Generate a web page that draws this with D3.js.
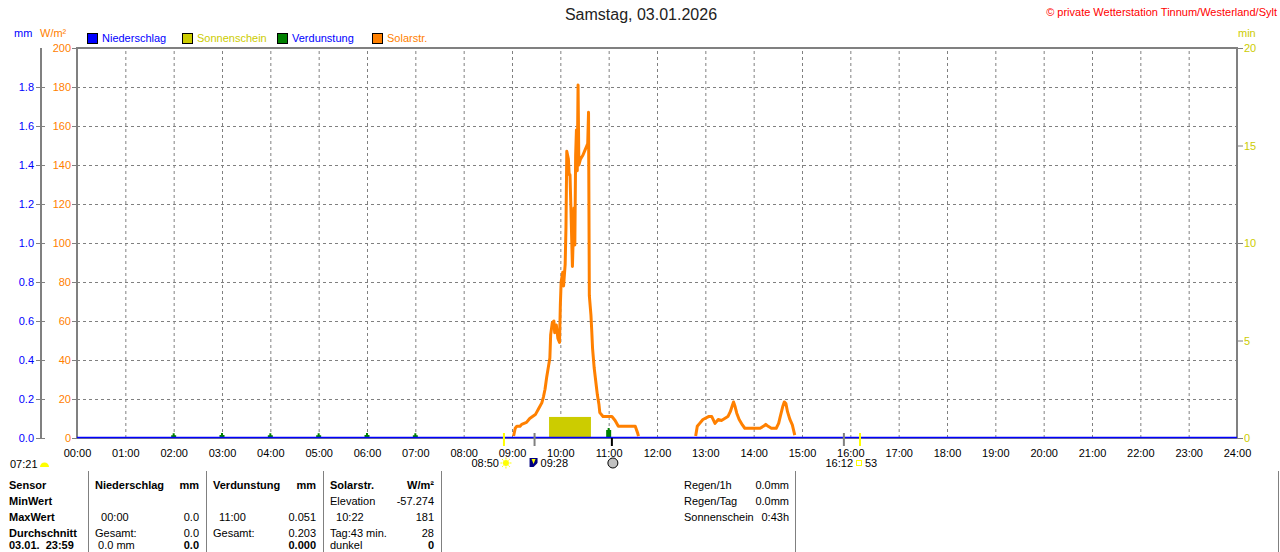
<!DOCTYPE html>
<html>
<head>
<meta charset="utf-8">
<script src="https://cdn.jsdelivr.net/npm/d3@7"></script>
<style>
body { margin: 0; background: #fff; }
svg { display: block; font-family: "Liberation Sans", Arial, sans-serif; font-size: 11px; }
text { white-space: pre; }
</style>
</head>
<body>
<svg id="chart" width="1280" height="552"></svg>
<script>
// --- values ---
const title = 'Samstag, 03.01.2026'
const copyright = '© private Wetterstation Tinnum/Westerland/Sylt'
const legendLabels = ['Niederschlag', 'Sonnenschein', 'Verdunstung', 'Solarstr.']

const hourTicks = ['00:00', '01:00', '02:00', '03:00', '04:00', '05:00', '06:00', '07:00', '08:00',
	'09:00', '10:00', '11:00', '12:00', '13:00', '14:00', '15:00', '16:00', '17:00', '18:00',
	'19:00', '20:00', '21:00', '22:00', '23:00', '24:00']
const mmTicks = [0, 0.2, 0.4, 0.6, 0.8, 1.0, 1.2, 1.4, 1.6, 1.8]
const wTicks = [0, 20, 40, 60, 80, 100, 120, 140, 160, 180, 200]
const minTicks = [0, 5, 10, 15, 20]

// Solarstrahlung W/m², two sunny stretches
const solarAMTimes = ['09:02', '09:04', '09:06', '09:10', '09:12', '09:18', '09:22', '09:29', '09:33', '09:37',
	'09:39', '09:41', '09:43', '09:45', '09:47', '09:48', '09:50', '09:52', '09:53', '09:55',
	'09:57', '09:59', '10:00', '10:01', '10:03', '10:04', '10:06', '10:07', '10:08', '10:10',
	'10:11', '10:12', '10:13', '10:15', '10:17', '10:18', '10:19', '10:20', '10:21', '10:22',
	'10:23', '10:25', '10:28', '10:31', '10:33', '10:34', '10:35', '10:36', '10:38', '10:39',
	'10:40', '10:42', '10:44', '10:46', '10:48', '10:49', '10:53', '11:04', '11:08', '11:12',
	'11:33', '11:36', '11:37']
const solarAMValues = [1, 5, 6, 6, 7, 8, 10, 12, 15, 18,
	21, 25, 31, 36, 41, 53, 59, 60, 54, 58,
	51, 49, 68, 80, 85, 78, 89, 108, 147, 143,
	135, 135, 120, 88, 118, 99, 145, 158, 137, 181,
	140, 143, 145, 148, 150, 151, 167, 73, 63, 55,
	46, 36, 29, 22, 17, 13, 11, 11, 9, 6,
	6, 2.5, 1]
const solarPMTimes = ['12:48', '12:50', '12:53', '12:57', '13:04', '13:08', '13:12', '13:16', '13:20', '13:24',
	'13:28', '13:31', '13:33', '13:35', '13:37', '13:39', '13:42', '13:46', '13:49', '14:08',
	'14:12', '14:15', '14:18', '14:22', '14:28', '14:31', '14:33', '14:36', '14:38', '14:40',
	'14:42', '14:45', '14:48', '14:51']
const solarPMValues = [1, 6, 7.5, 9.5, 11, 11, 7.5, 9.5, 9, 10,
	11, 13.5, 16, 18.5, 16, 12.7, 9.5, 6.7, 5, 5,
	6, 7, 6, 5, 5, 7.5, 11, 16, 18.5, 17.7,
	13.5, 9.5, 6.7, 1.5]

// Niederschlag mm
const rainTimes = ['00:00', '06:00', '12:00', '18:00', '24:00']
const rainValues = [0, 0, 0, 0, 0]

// Verdunstung mm
const evapTimes = ['02:00', '03:00', '04:00', '05:00', '06:00', '07:00', '11:00']
const evapValues = [0.025, 0.026, 0.025, 0.025, 0.026, 0.025, 0.051]

// Sonnenschein min
const sunFrom = '09:46'
const sunTo = '10:38'
const sunMinutes = 1.08

// Astro markers under the time axis
const eventTimes = ['08:50', '09:28', '11:04', '15:52', '16:12']
const eventKinds = ['sunrise', 'moonrise', 'moonphase', 'moonset', 'sunset']
const dawnLabel = '07:21'
const sunriseLabel = '08:50'
const moonriseLabel = '09:28'
const sunsetLabel = '16:12'
const sunsetAzimuth = '53'

// table
const rowLabels = ['Sensor', 'MinWert', 'MaxWert', 'Durchschnitt', '03.01.  23:59']
const rainCol = [['Niederschlag', 'mm'], ['', ''], ['  00:00', '0.0'], ['Gesamt:', '0.0'], [' 0.0 mm', '0.0']]
const evapCol = [['Verdunstung', 'mm'], ['', ''], ['  11:00', '0.051'], ['Gesamt:', '0.203'], ['', '0.000']]
const solarCol = [['Solarstr.', 'W/m²'], ['Elevation', '-57.274'], ['  10:22', '181'], ['Tag:43 min.', '28'], ['dunkel', '0']]
const summaryLabels = ['Regen/1h', 'Regen/Tag', 'Sonnenschein']
const summaryValues = ['0.0mm', '0.0mm', '0:43h']

// --- drawing ---
const toMin = s => { const [h, m] = s.split(':'); return +h * 60 + +m }

const svg = d3.select('#chart')
const margin = { top: 48, right: 43, bottom: 114, left: 77 }
const W = 1280, H = 552
const x0 = margin.left, x1 = W - margin.right
const y0 = H - margin.bottom, y1 = margin.top

const x = d3.scaleLinear().domain([0, 1440]).range([x0, x1])
const yW = d3.scaleLinear().domain([0, 200]).range([y0, y1])
const yMm = d3.scaleLinear().domain([0, 2]).range([y0, y1])
const yMin = d3.scaleLinear().domain([0, 20]).range([y0, y1])

const grey = '#808080'
const blue = '#0000ff'
const orange = '#ff8000'
const olive = '#cccc00'
const green = '#008000'

// title + copyright
svg.append('text').attr('x', 641).attr('y', 20).attr('text-anchor', 'middle')
	.style('font-size', '16px').attr('fill', '#222').text(title)
svg.append('text').attr('x', 1277).attr('y', 16).attr('text-anchor', 'end')
	.attr('fill', '#ff0000').text(copyright)

// unit labels
svg.append('text').attr('x', 14).attr('y', 37).attr('fill', blue).text('mm')
svg.append('text').attr('x', 40).attr('y', 37).attr('fill', orange).text('W/m²')
svg.append('text').attr('x', 1238).attr('y', 37).attr('fill', olive).text('min')

// legend
const legFill = [blue, olive, green, orange]
const legText = [blue, olive, blue, orange]
legendLabels.forEach((l, i) => {
	const lx = 87 + i * 95
	svg.append('rect').attr('x', lx + 0.5).attr('y', 33.5).attr('width', 10).attr('height', 10)
		.attr('fill', legFill[i]).attr('stroke', '#000')
	svg.append('text').attr('x', lx + 15).attr('y', 42).attr('fill', legText[i]).text(l)
})

// grid
svg.append('g')
	.attr('transform', `translate(${x0},0)`)
	.call(d3.axisLeft(yW).tickValues(wTicks.slice(1, -1)).tickSize(-(x1 - x0)).tickFormat(''))
	.call(g => g.select('.domain').remove())
	.selectAll('line').attr('stroke', grey).attr('stroke-dasharray', '3,3')
svg.append('g')
	.attr('transform', `translate(0,${y0})`)
	.call(d3.axisBottom(x).tickValues(hourTicks.slice(1, -1).map(toMin)).tickSize(-(y0 - y1)).tickFormat(''))
	.call(g => g.select('.domain').remove())
	.selectAll('line').attr('stroke', grey).attr('stroke-dasharray', '3,3')

// frame
svg.append('rect').attr('x', x0).attr('y', y1).attr('width', x1 - x0).attr('height', y0 - y1)
	.attr('fill', 'none').attr('stroke', grey).attr('stroke-width', 2)

// mm axis (left outer)
svg.append('line').attr('x1', 41).attr('x2', 41).attr('y1', y1).attr('y2', y0)
	.attr('stroke', grey).attr('stroke-width', 2)
svg.append('g')
	.attr('transform', 'translate(45,0)')
	.call(d3.axisLeft(yMm).tickValues(mmTicks).tickSize(9).tickPadding(2).tickFormat(d3.format('.1f')))
	.call(g => g.select('.domain').remove())
	.call(g => g.selectAll('line').attr('stroke', grey))
	.call(g => g.selectAll('text').attr('fill', blue).style('font-size', '11px').style('font-family', null))

// W/m² axis
svg.append('g')
	.attr('transform', `translate(${x0},0)`)
	.call(d3.axisLeft(yW).tickValues(wTicks).tickSize(5).tickPadding(1))
	.call(g => g.select('.domain').remove())
	.call(g => g.selectAll('line').attr('stroke', grey))
	.call(g => g.selectAll('text').attr('fill', orange).style('font-size', '11px').style('font-family', null))

// min axis (right)
svg.append('g')
	.attr('transform', `translate(${x1},0)`)
	.call(d3.axisRight(yMin).tickValues(minTicks).tickSize(6).tickPadding(1))
	.call(g => g.select('.domain').remove())
	.call(g => g.selectAll('line').attr('stroke', grey))
	.call(g => g.selectAll('text').attr('fill', olive).style('font-size', '11px').style('font-family', null))

// time axis labels
svg.append('g')
	.attr('transform', `translate(0,${y0})`)
	.call(d3.axisBottom(x).tickValues(hourTicks.map(toMin)).tickSize(0).tickPadding(11)
		.tickFormat((d, i) => hourTicks[i]))
	.call(g => g.select('.domain').remove())
	.call(g => g.selectAll('text').attr('fill', '#000').style('font-size', '11px').style('font-family', null))

// sunshine bar
svg.append('rect')
	.attr('x', x(toMin(sunFrom))).attr('y', yMin(sunMinutes))
	.attr('width', x(toMin(sunTo)) - x(toMin(sunFrom)))
	.attr('height', y0 - yMin(sunMinutes))
	.attr('fill', olive)

// evaporation bars (small spikes)
svg.append('g').selectAll('path')
	.data(evapTimes.map((t, i) => ({ t: toMin(t), v: evapValues[i] })))
	.join('path')
	.attr('d', d => {
		const cx = x(d.t), top = yMm(d.v)
		return `M${cx - 2.5},${y0} L${cx - 2.5},${top + 2} L${cx - 1},${top + 2} L${cx - 1},${top} L${cx + 1},${top} L${cx + 1},${top + 2} L${cx + 2.5},${top + 2} L${cx + 2.5},${y0} Z`
	})
	.attr('fill', green)

// solar radiation
const solarLine = d3.line().x(d => x(d.t)).y(d => yW(d.v))
const segs = [
	solarAMTimes.map((t, i) => ({ t: toMin(t), v: solarAMValues[i] })),
	solarPMTimes.map((t, i) => ({ t: toMin(t), v: solarPMValues[i] }))
]
segs.forEach(s => {
	svg.append('path').attr('d', solarLine(s)).attr('fill', 'none')
		.attr('stroke', orange).attr('stroke-width', 3).attr('stroke-linejoin', 'round')
})

// rain line
svg.append('path')
	.attr('d', d3.line().x(d => x(d.t)).y(d => yMm(d.v) - 0.5)(rainTimes.map((t, i) => ({ t: toMin(t), v: rainValues[i] }))))
	.attr('fill', 'none').attr('stroke', blue).attr('stroke-width', 1.5)

// astro markers
const evColor = { sunrise: '#ffff00', moonrise: grey, moonphase: '#000', moonset: grey, sunset: '#ffff00' }
eventTimes.forEach((t, i) => {
	const k = eventKinds[i]
	svg.append('line')
		.attr('x1', x(toMin(t))).attr('x2', x(toMin(t)))
		.attr('y1', k === 'moonphase' ? y0 : y0 - 5).attr('y2', y0 + 8)
		.attr('stroke', evColor[k]).attr('stroke-width', 2)
})

const labY = 467
// dawn
svg.append('text').attr('x', 10).attr('y', labY + 1).attr('fill', '#000').text(dawnLabel)
svg.append('path').attr('d', 'M40,467 A4.5,4.5 0 0 1 49,467 Z').attr('fill', '#ffff00')
// sunrise
const sx = x(toMin(eventTimes[0]))
svg.append('text').attr('x', sx - 5).attr('y', labY).attr('text-anchor', 'end').text(sunriseLabel)
svg.append('circle').attr('cx', sx + 2).attr('cy', 463).attr('r', 3).attr('fill', '#ffff00')
d3.range(8).forEach(j => {
	const a = j * Math.PI / 4
	svg.append('line')
		.attr('x1', sx + 2 + Math.cos(a) * 3.5).attr('y1', 463 + Math.sin(a) * 3.5)
		.attr('x2', sx + 2 + Math.cos(a) * 5.5).attr('y2', 463 + Math.sin(a) * 5.5)
		.attr('stroke', '#ffff00').attr('stroke-width', 1)
})
// moonrise
const mx = x(toMin(eventTimes[1]))
svg.append('rect').attr('x', mx - 5).attr('y', 458).attr('width', 8).attr('height', 9).attr('fill', '#000080')
svg.append('path').attr('d', `M${mx - 3},459 L${mx + 1},459 L${mx - 1},464 Z`).attr('fill', '#ffff00')
svg.append('path').attr('d', `M${mx - 1},467 L${mx + 4},462 L${mx + 4},467 Z`).attr('fill', '#ffffff')
svg.append('text').attr('x', mx + 6).attr('y', labY).text(moonriseLabel)
// moon phase
svg.append('circle').attr('cx', x(toMin(eventTimes[2])) + 1).attr('cy', 463).attr('r', 5)
	.attr('fill', '#c0c0c0').attr('stroke', '#000')
// sunset
const ux = x(toMin(eventTimes[4]))
svg.append('text').attr('x', ux - 7).attr('y', labY).attr('text-anchor', 'end').text(sunsetLabel)
svg.append('rect').attr('x', ux - 3.5).attr('y', 460.5).attr('width', 5).attr('height', 5)
	.attr('fill', 'none').attr('stroke', '#ffff00')
svg.append('text').attr('x', ux + 5).attr('y', labY).text(sunsetAzimuth)

// table
const sepX = [88, 206, 323, 441, 795, 1278]
sepX.forEach(sx => {
	svg.append('line').attr('x1', sx + 0.5).attr('x2', sx + 0.5).attr('y1', 471).attr('y2', H)
		.attr('stroke', grey)
})
// last row sits at the very bottom edge; pulled up a little so it stays readable
const rowY = i => (i < 4 ? 489 + i * 16 : 549)
rowLabels.forEach((l, i) => {
	svg.append('text').attr('x', 9).attr('y', rowY(i)).style('font-weight', 'bold').text(l)
})
const cols = [[rainCol, 88, 206], [evapCol, 206, 323], [solarCol, 323, 441]]
cols.forEach(([col, a, b]) => {
	col.forEach(([l, r], i) => {
		svg.append('text').attr('x', a + 7).attr('y', rowY(i))
			.style('font-weight', i === 0 ? 'bold' : 'normal').text(l)
		svg.append('text').attr('x', b - 7).attr('y', rowY(i)).attr('text-anchor', 'end')
			.style('font-weight', i === 0 || i === 4 ? 'bold' : 'normal').text(r)
	})
})
summaryLabels.forEach((l, i) => {
	svg.append('text').attr('x', 684).attr('y', rowY(i)).text(l)
	svg.append('text').attr('x', 789).attr('y', rowY(i)).attr('text-anchor', 'end').text(summaryValues[i])
})
</script>
</body>
</html>
